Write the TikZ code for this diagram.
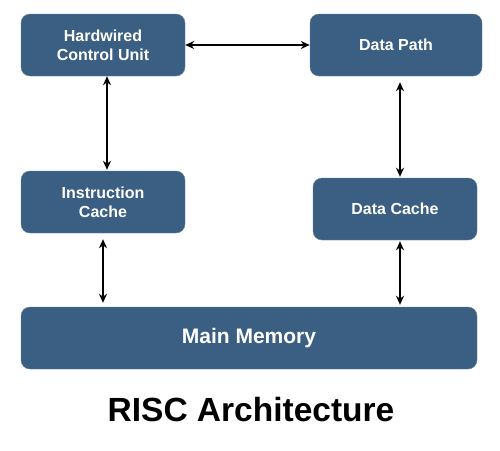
\documentclass[tikz,border=0pt]{standalone}
\usepackage{fontspec}
\setmainfont{Liberation Sans}
\usepackage{tikz}
\usetikzlibrary{arrows.meta}
\definecolor{boxblue}{HTML}{3A5F82}

\begin{document}
\begin{tikzpicture}[x=1pt, y=-1pt,
	unit/.style={fill=boxblue, draw=boxblue!80!white, rounded corners=9pt, text=white, font=\bfseries\fontsize{16}{19}\selectfont, align=center, minimum height=62pt, inner sep=0pt},
	link/.style={black, line width=1.6pt, {Stealth[length=9pt,width=8pt]}-{Stealth[length=9pt,width=8pt]}}]
	\useasboundingbox (0,0) rectangle (500,450);
	\node[unit, minimum width=164pt] (hcu) at (103,45) {Hardwired\\Control Unit};
	\node[unit, minimum width=172pt] (dp) at (396,45) {Data Path};
	\node[unit, minimum width=164pt] (ic) at (103,202) {Instruction\\Cache};
	\node[unit, minimum width=164pt] (dc) at (395,209) {Data Cache};
	\node[unit, minimum width=456pt, font=\bfseries\fontsize{21}{24}\selectfont] (mm) at (249,338) {Main Memory};
	\node[font=\bfseries\fontsize{33.5}{38}\selectfont] (title) at (251,410) {RISC Architecture};
	\draw[link] (hcu.east) -- (dp.west);
	\draw[link] ([xshift=4pt]hcu.south) -- ([xshift=4pt,yshift=1pt]ic.north);
	\draw[link] ([xshift=4pt,yshift=-6pt]dp.south) -- ([xshift=5pt,yshift=1pt]dc.north);
	\draw[link] ([yshift=-6pt]ic.south) -- ([yshift=4pt]ic.south |- mm.north);
	\draw[link] ([xshift=5pt,yshift=-1pt]dc.south) -- ([xshift=5pt,yshift=2pt]dc.south |- mm.north);
\end{tikzpicture}
\end{document}
